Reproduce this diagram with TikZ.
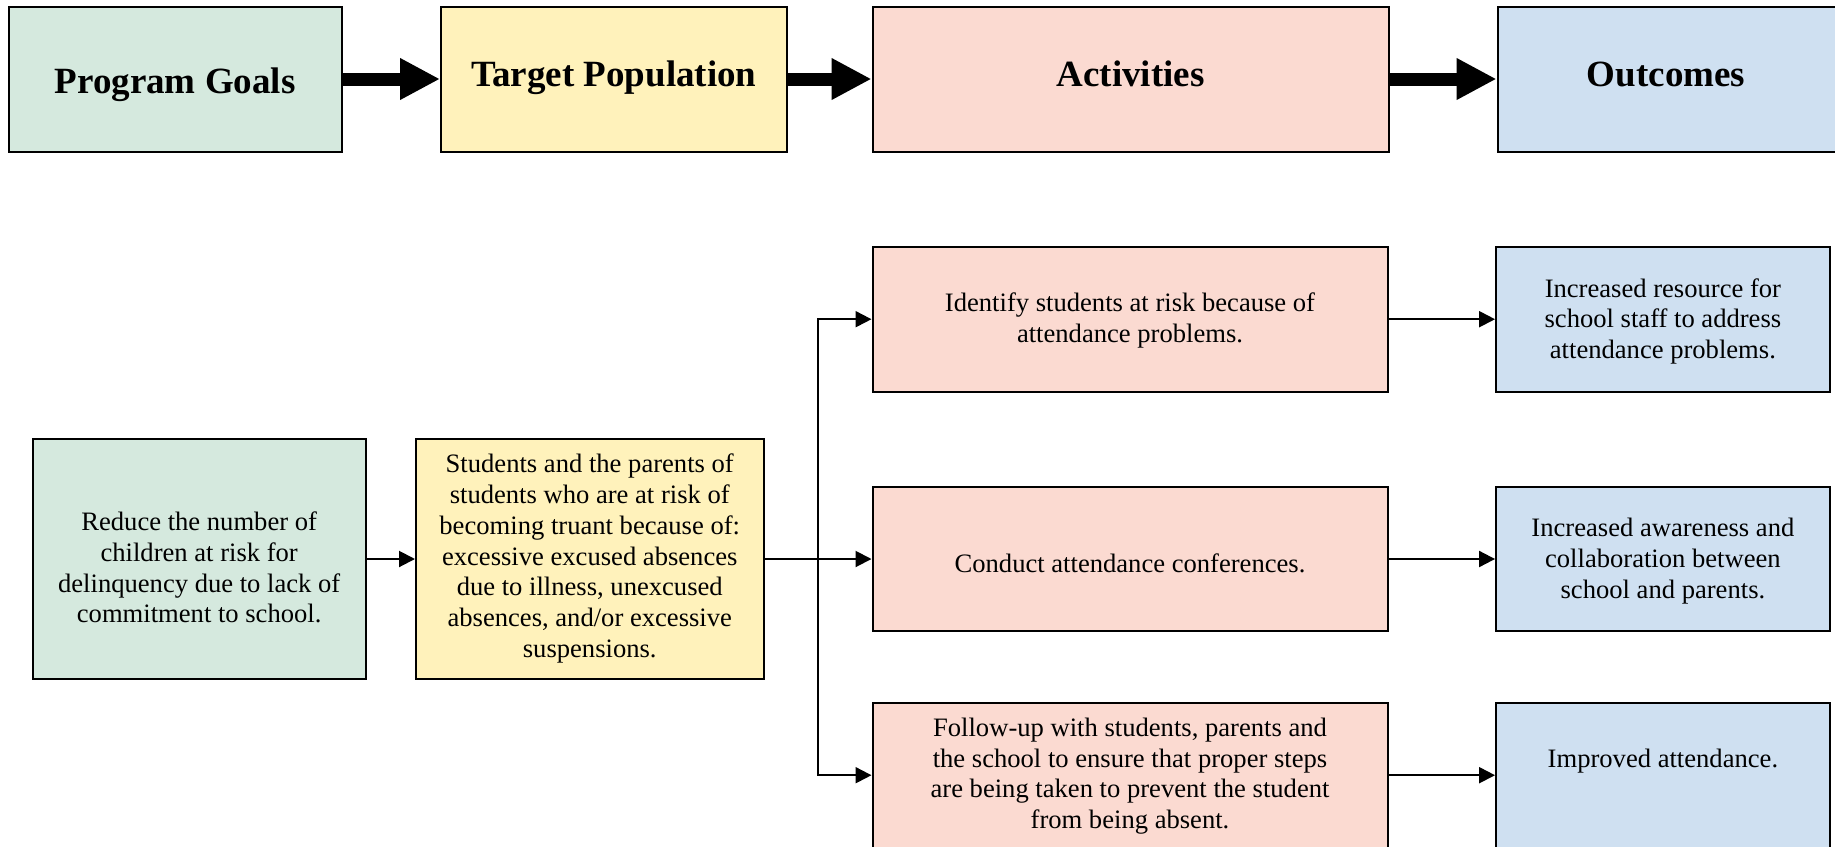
\documentclass[tikz,border=0pt]{standalone}
\usepackage{fontspec}
\setmainfont{Liberation Serif}
\usetikzlibrary{arrows.meta}
\definecolor{cgreen}{RGB}{213,233,222}
\definecolor{cyellow}{RGB}{255,242,187}
\definecolor{cpink}{RGB}{251,218,209}
\definecolor{cblue}{RGB}{207,224,241}
\tikzset{
  pbox/.style={draw=black, line width=2pt, rectangle, inner sep=0pt},
  titletxt/.style={font=\fontsize{37}{44}\selectfont\bfseries, inner sep=0pt, anchor=base},
  btxt/.style={font=\fontsize{26.6}{30.7}\selectfont, align=center, inner sep=0pt},
  bigarrow/.style={line width=13pt, -{Triangle[length=40pt,width=39pt]}},
  conn/.style={line width=2pt, -{Triangle[length=16pt,width=16pt]}},
}
\begin{document}
\begin{tikzpicture}[x=1pt,y=-1pt]
\useasboundingbox (0,0) rectangle (1835,846);
\clip (0,0) rectangle (1835,846);
% top row
\node[pbox, fill=cgreen, minimum width=333pt, minimum height=145pt] (pg) at (175.1,79) {};
\node[pbox, fill=cyellow, minimum width=345.5pt, minimum height=145pt] (tp) at (613.75,79) {};
\node[pbox, fill=cpink, minimum width=516pt, minimum height=145pt] (ac) at (1130.5,79) {};
\node[pbox, fill=cblue, minimum width=345pt, minimum height=145pt] (oc) at (1670,79) {};
\node[titletxt] (pgt) at (175.1,93.3) {Program Goals};
\node[titletxt] (tpt) at (613.75,86) {Target Population};
\node[titletxt] (act) at (1130.5,86) {Activities};
\node[titletxt] (oct) at (1666,86) {Outcomes};
\draw[bigarrow] (pg.east) -- (pg.east -| tp.west);
\draw[bigarrow] (tp.east) -- (tp.east -| ac.west);
\draw[bigarrow] (ac.east) -- (ac.east -| oc.west);
% lower part
\node[pbox, fill=cgreen, minimum width=333pt, minimum height=240pt] (goal) at (199.2,559) {};
\node[pbox, fill=cyellow, minimum width=347.5pt, minimum height=240pt] (tgt) at (589.75,559) {};
\node[pbox, fill=cpink, minimum width=515pt, minimum height=145pt] (act1) at (1130,319.2) {};
\node[pbox, fill=cpink, minimum width=515pt, minimum height=144pt] (act2) at (1130,559) {};
\node[pbox, fill=cpink, minimum width=515pt, minimum height=145pt] (act3) at (1130,775.2) {};
\node[pbox, fill=cblue, minimum width=333.7pt, minimum height=145pt] (out1) at (1662.9,319.2) {};
\node[pbox, fill=cblue, minimum width=333.7pt, minimum height=144pt] (out2) at (1662.9,559) {};
\node[pbox, fill=cblue, minimum width=333.7pt, minimum height=145pt] (out3) at (1662.9,775.2) {};
\node[btxt] (goalt) at (199.2,567.5) {Reduce the number of\\children at risk for\\delinquency due to lack of\\commitment to school.};
\node[btxt] (tgtt) at (589.75,558.5) {Students and the parents of\\students who are at risk of\\becoming truant because of:\\excessive excused absences\\due to illness, unexcused\\absences, and/or excessive\\suspensions.};
\node[btxt] (act1t) at (1130,320.5) {Identify students at risk because of\\attendance problems.};
\node[btxt] (act2t) at (1130,563.5) {Conduct attendance conferences.};
\node[btxt] (act3t) at (1130,776) {Follow-up with students, parents and\\the school to ensure that proper steps\\are being taken to prevent the student\\from being absent.};
\node[btxt] (out1t) at (1662.9,321.2) {Increased resource for\\school staff to address\\attendance problems.};
\node[btxt] (out2t) at (1662.9,561) {Increased awareness and\\collaboration between\\school and parents.};
\node[btxt] (out3t) at (1662.9,761) {Improved attendance.};
\draw[conn] (goal.east) -- (tgt.west);
\coordinate (trunk) at (818,559);
\draw[conn] (tgt.east) -- (act2.west);
\draw[conn] (trunk) |- (act1.west);
\draw[conn] (trunk) |- (act3.west);
\draw[conn] (act1.east) -- (out1.west);
\draw[conn] (act2.east) -- (out2.west);
\draw[conn] (act3.east) -- (out3.west);
\end{tikzpicture}
\end{document}
